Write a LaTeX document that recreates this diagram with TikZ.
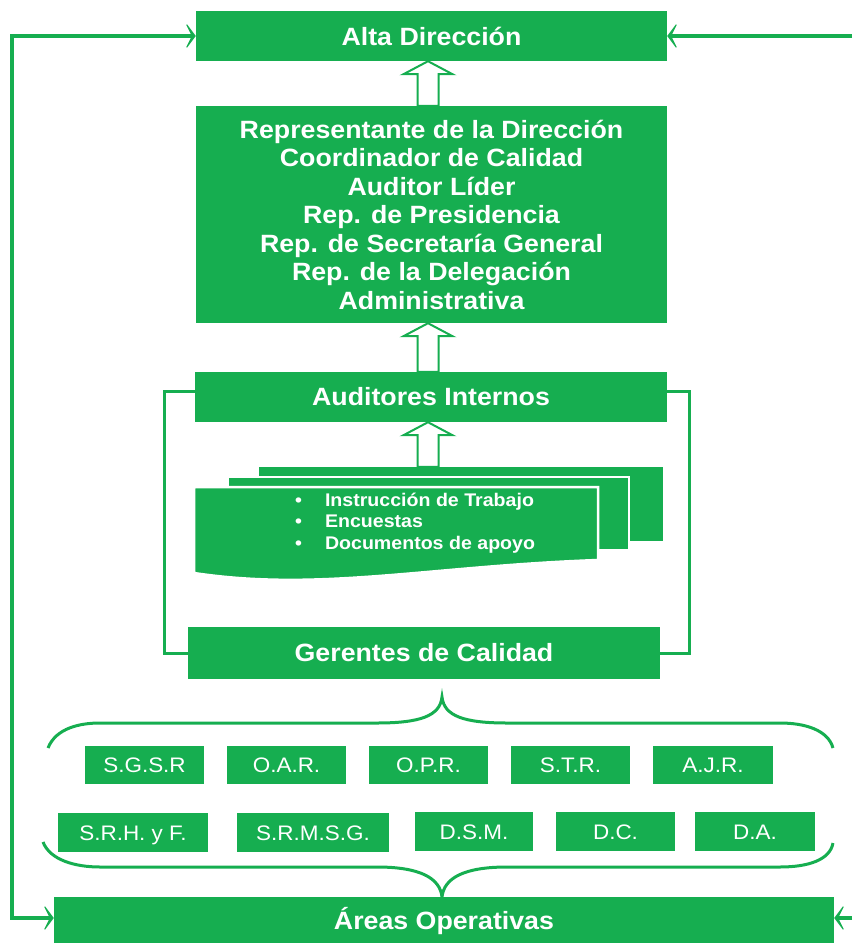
\documentclass[tikz,border=0pt]{standalone}
\usepackage{fontspec}
\setmainfont{Liberation Sans}[FakeStretch=1.07]
\usetikzlibrary{arrows.meta,calc}
\definecolor{grn}{RGB}{22,174,80}
\newcommand\bigfnt{\fontsize{25}{28.5}\selectfont\bfseries}
\newcommand\smlfnt{\fontsize{21}{22}\selectfont}
\newcommand\docfnt{\fontsize{18.3}{21.5}\selectfont\bfseries}
\newcommand\blockarrow[2]{%
  \draw[blockarr] ($(#1.north -| ax)+(-10.5,0)$) -- ($(#2.south -| ax)+(-10.5,13)$)
    -- ($(#2.south -| ax)+(-24.5,13)$) -- (#2.south -| ax) -- ($(#2.south -| ax)+(24.5,13)$)
    -- ($(#2.south -| ax)+(10.5,13)$) -- ($(#1.north -| ax)+(10.5,0)$) -- cycle;}
\begin{document}
\begin{tikzpicture}[x=1pt,y=-1pt,
  bigbox/.style={fill=grn, text=white, inner sep=0pt, font=\bigfnt, align=center},
  smbox/.style={fill=grn, text=white, inner sep=0pt, font=\smlfnt, text height=15pt, text depth=0pt},
  sheet/.style={fill=grn, draw=white, line width=2.5pt, inner sep=0pt},
  bigline/.style={draw=grn, line width=4pt},
  loopline/.style={draw=grn, line width=3pt},
  brace/.style={draw=grn, line width=3pt},
  blockarr/.style={draw=grn, line width=2pt, fill=white},
  barb/.tip={Stealth[length=12pt,width=32pt,inset=8pt]}]
\useasboundingbox (0,0) rectangle (852,943);

% main boxes
\node[bigbox, minimum width=471pt, minimum height=50pt] (alta) at (431.5,36) {Alta Dirección};
\node[bigbox, minimum width=471pt, minimum height=217pt] (rep) at (431.5,214.5)
  {Representante de la Dirección\\Coordinador de Calidad\\Auditor Líder\\Rep. de Presidencia\\Rep. de Secretaría General\\Rep. de la Delegación\\Administrativa};
\node[bigbox, minimum width=472pt, minimum height=50pt] (aud) at (431,397) {Auditores Internos};
\node[bigbox, minimum width=472pt, minimum height=52pt] (ger) at (424,653) {Gerentes de Calidad};
\node[bigbox, minimum width=780pt, minimum height=48pt] (areas) at (444,921) {Áreas Operativas};

% document stack
\node[fill=grn, inner sep=0pt, minimum width=404pt, minimum height=74pt] (sheet3) at (461,504) {};
\node[sheet, minimum width=401pt, minimum height=73pt] (sheet2) at (428.5,513.5) {};
\draw[sheet] (194,487) -- (598,487) -- (598,560) .. controls (430,566) and (320,592) .. (194,573) -- cycle;
\node[anchor=west, text=white, font=\docfnt, align=left, inner sep=0pt] (doclist) at (295,523)
  {\textbullet\hspace{23pt}Instrucción de Trabajo\\\textbullet\hspace{23pt}Encuestas\\\textbullet\hspace{23pt}Documentos de apoyo};

% block arrows
\coordinate (ax) at (428,0);
\blockarrow{rep}{alta}
\blockarrow{aud}{rep}
\blockarrow{sheet3}{aud}

% loop between Auditores and Gerentes
\draw[loopline] ([yshift=6pt]aud.west) -- ++(-30,0) |- (ger.west);
\draw[loopline] ([yshift=6pt]aud.east) -- ++(22,0) |- (ger.east);

% small boxes
\node[smbox, minimum width=119pt, minimum height=38pt] (sgsr) at (144.5,765) {S.G.S.R};
\node[smbox, minimum width=119pt, minimum height=38pt] (oar) at (286.5,765) {O.A.R.};
\node[smbox, minimum width=119pt, minimum height=38pt] (opr) at (428.5,765) {O.P.R.};
\node[smbox, minimum width=119pt, minimum height=38pt] (str) at (570.5,765) {S.T.R.};
\node[smbox, minimum width=120pt, minimum height=38pt] (ajr) at (713,765) {A.J.R.};
\node[smbox, minimum width=150pt, minimum height=39pt] (srhf) at (133,832.5) {S.R.H. y F.};
\node[smbox, minimum width=152pt, minimum height=39pt] (srmsg) at (313,832.5) {S.R.M.S.G.};
\node[smbox, minimum width=118pt, minimum height=39pt] (dsm) at (474,831.5) {D.S.M.};
\node[smbox, minimum width=119pt, minimum height=39pt] (dc) at (615.5,831.5) {D.C.};
\node[smbox, minimum width=120pt, minimum height=39pt] (da) at (755,831.5) {D.A.};

% braces
\draw[brace] (48,748) .. controls (56,728) and (80,723) .. (100,723) -- (377,723)
  .. controls (420,723) and (440,716) .. (442,697) .. controls (444,716) and (464,723) .. (507,723)
  -- (780,723) .. controls (805,723) and (828,730) .. (833,748);
\draw[brace] (43,842) .. controls (50,860) and (75,867) .. (100,867) -- (377,867)
  .. controls (420,867) and (440,878) .. (442,897) .. controls (444,878) and (464,867) .. (507,867)
  -- (780,867) .. controls (808,867) and (830,860) .. (833,843);

% outer feedback lines
\coordinate (lc) at (12,918);
\coordinate (rc1) at (852,36);
\coordinate (rc2) at (852,918);
\draw[bigline, barb-barb] (alta.west) -| (lc) -- (lc -| areas.west);
\draw[bigline, -barb] (rc1) -- (alta.east);
\draw[bigline, -barb] (rc2) -- (rc2 -| areas.east);
\end{tikzpicture}
\end{document}
